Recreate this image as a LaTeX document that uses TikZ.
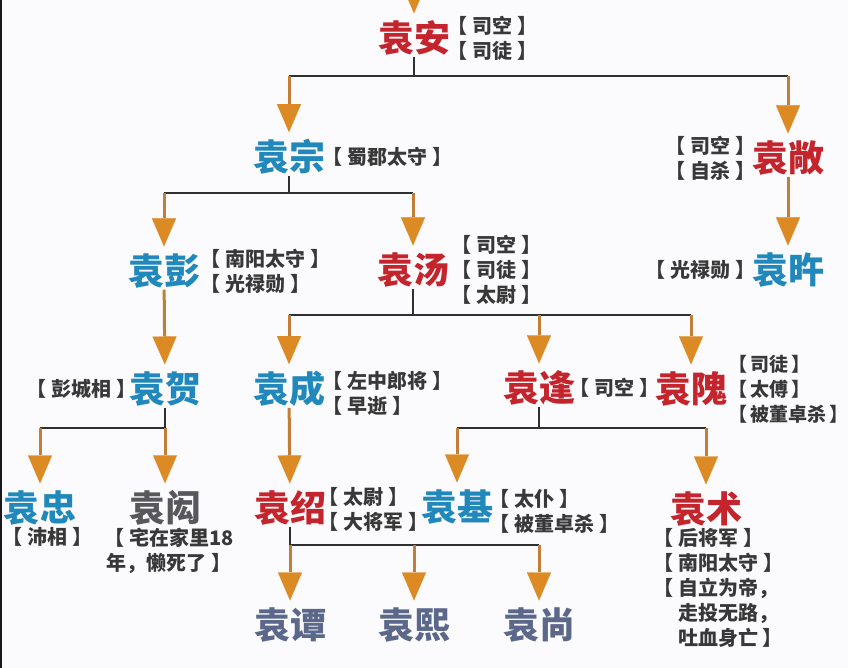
\documentclass[tikz,border=0pt]{standalone}
\usepackage{fontspec}
\newfontfamily\cjk{Noto Sans CJK SC}
\usetikzlibrary{arrows.meta,positioning}
\definecolor{nred}{RGB}{196,36,44}
\definecolor{nblue}{RGB}{32,136,186}
\definecolor{ngray}{RGB}{88,88,92}
\definecolor{nslate}{RGB}{92,104,138}
\definecolor{arrc}{RGB}{220,138,36}
\definecolor{stemc}{RGB}{192,126,56}
\definecolor{barc}{RGB}{48,48,48}
\definecolor{bgc}{RGB}{251,250,252}
\newcommand\ob{【\kern5pt}
\newcommand\cb{\kern5pt】}

\begin{document}
\begin{tikzpicture}[x=1pt, y=-1pt, node distance=1pt,
  person/.style={font=\cjk\bfseries\fontsize{36}{36}\selectfont, inner sep=1pt},
  rname/.style={person, text=nred},
  bname/.style={person, text=nblue},
  gname/.style={person, text=ngray},
  sname/.style={person, text=nslate},
  lab/.style={font=\cjk\bfseries\fontsize{20}{25}\selectfont, align=left, inner sep=1pt, text=black!78},
  arr/.style={draw=stemc, line width=3pt, shorten >=6pt,
    -{Triangle[width=24pt, length=28pt, color=arrc, line width=0.1pt]}},
  bar/.style={draw=barc, line width=2.2pt}]
\fill[bgc] (0,0) rectangle (848,668);
\fill[black!90] (0,0) rectangle (2,668);
\useasboundingbox (0,0) rectangle (848,668);

% names
\node[rname] (an) at (414,38) {袁安};
\node[bname] (zong) at (289,157) {袁宗};
\node[rname] (chang) at (788,158) {袁敞};
\node[bname] (wu) at (788,270) {袁旿};
\node[bname] (peng) at (164,271) {袁彭};
\node[rname] (tang) at (413,270) {袁汤};
\node[bname] (he) at (165,389) {袁贺};
\node[bname] (cheng) at (289,389) {袁成};
\node[rname] (feng) at (539,388) {袁逢};
\node[rname] (wei) at (691,389) {袁隗};
\node[bname] (zhong) at (40,508) {袁忠};
\node[gname] (hong) at (165,508) {袁闳};
\node[rname] (shao) at (290,508) {袁绍};
\node[bname] (ji) at (457,507) {袁基};
\node[rname] (shu) at (706,509) {袁术};
\node[sname] (tan) at (290,625) {袁谭};
\node[sname] (xi) at (414,625) {袁熙};
\node[sname] (shang) at (539,625) {袁尚};

% titles
\node[lab, right=-5pt of an] (an-l) {\ob 司空\cb\\\ob 司徒\cb};
\node[lab, right=-5pt of zong] (zong-l) {\ob 蜀郡太守\cb};
\node[lab, left=-6pt of chang] (chang-l) {\ob 司空\cb\\\ob 自杀\cb};
\node[lab, left=-6pt of wu] (wu-l) {\ob 光禄勋\cb};
\node[lab, right=-2pt of peng] (peng-l) {\ob 南阳太守\cb\\\ob 光禄勋\cb};
\node[lab, right=0pt of tang] (tang-l) {\ob 司空\cb\\\ob 司徒\cb\\\ob 太尉\cb};
\node[lab, left=-10pt of he] (he-l) {\ob 彭城相\cb};
\node[lab, right=-5pt of cheng, yshift=-4pt] (cheng-l) {\ob 左中郎将\cb\\\ob 早逝\cb};
\node[lab, right=-8pt of feng] (feng-l) {\ob 司空\cb};
\node[lab, right=-1pt of wei, font=\cjk\bfseries\fontsize{19}{25}\selectfont] (wei-l) {【\kern3pt司徒\kern3pt】\\【\kern3pt太傅\kern3pt】\\【\kern3pt被董卓杀\kern3pt】};
\node[lab, below=0pt of zhong, xshift=7pt] (zhong-l) {\ob 沛相\cb};
\node[lab, below=0pt of hong, align=center, xshift=4pt] (hong-l) {\ob 宅在家里18\\年，懒死了\cb};
\node[lab, right=-10pt of shao, yshift=-1pt] (shao-l) {\ob 太尉\cb\\\ob 大将军\cb};
\node[lab, right=-6pt of ji, yshift=-4pt] (ji-l) {\ob 太仆\cb\\\ob 被董卓杀\cb};
\node[lab, below=0pt of shu, xshift=12pt] (shu-l) {\ob 后将军\cb\\\ob 南阳太守\cb\\\ob 自立为帝，\\\phantom{\ob}走投无路，\\\phantom{\ob}吐血身亡\cb};

% branch points
\coordinate (top) at (414,-40);
\coordinate (j-zong) at (289,76);
\coordinate (j-chang) at (788,76);
\coordinate (j-peng) at (164,193);
\coordinate (j-tang) at (413,193);
\coordinate (j-cheng) at (289,315);
\coordinate (j-feng) at (539,315);
\coordinate (j-wei) at (691,315);
\coordinate (j-zhong) at (40,428);
\coordinate (j-hong) at (165,428);
\coordinate (j-ji) at (457,428);
\coordinate (j-shu) at (706,428);
\coordinate (j-tan) at (290,545);
\coordinate (j-xi) at (414,545);
\coordinate (j-shang) at (539,545);

% bars
\draw[bar] (an) |- (j-zong);
\draw[bar] (an) |- (j-chang);
\draw[bar] (zong) |- (j-peng);
\draw[bar] (zong) |- (j-tang);
\draw[bar] (tang) |- (j-cheng);
\draw[bar] (tang) |- (j-wei);
\draw[bar] (he) |- (j-zhong);
\draw[bar] (feng) |- (j-ji);
\draw[bar] (feng) |- (j-shu);
\draw[bar] (shao) |- (j-shang);

% arrows
\draw[arr] (top) -- (an);
\draw[arr] (j-zong) -- (zong);
\draw[arr] (j-chang) -- (chang);
\draw[arr] (chang) -- (wu);
\draw[arr] (j-peng) -- (peng);
\draw[arr] (j-tang) -- (tang);
\draw[arr] (peng) -- (he);
\draw[arr] (j-cheng) -- (cheng);
\draw[arr] (j-feng) -- (feng);
\draw[arr] (j-wei) -- (wei);
\draw[arr] (j-zhong) -- (zhong);
\draw[arr] (j-hong) -- (hong);
\draw[arr] (cheng) -- (shao);
\draw[arr] (j-ji) -- (ji);
\draw[arr] (j-shu) -- (shu);
\draw[arr] (j-tan) -- (tan);
\draw[arr] (j-xi) -- (xi);
\draw[arr] (j-shang) -- (shang);
\end{tikzpicture}
\end{document}
